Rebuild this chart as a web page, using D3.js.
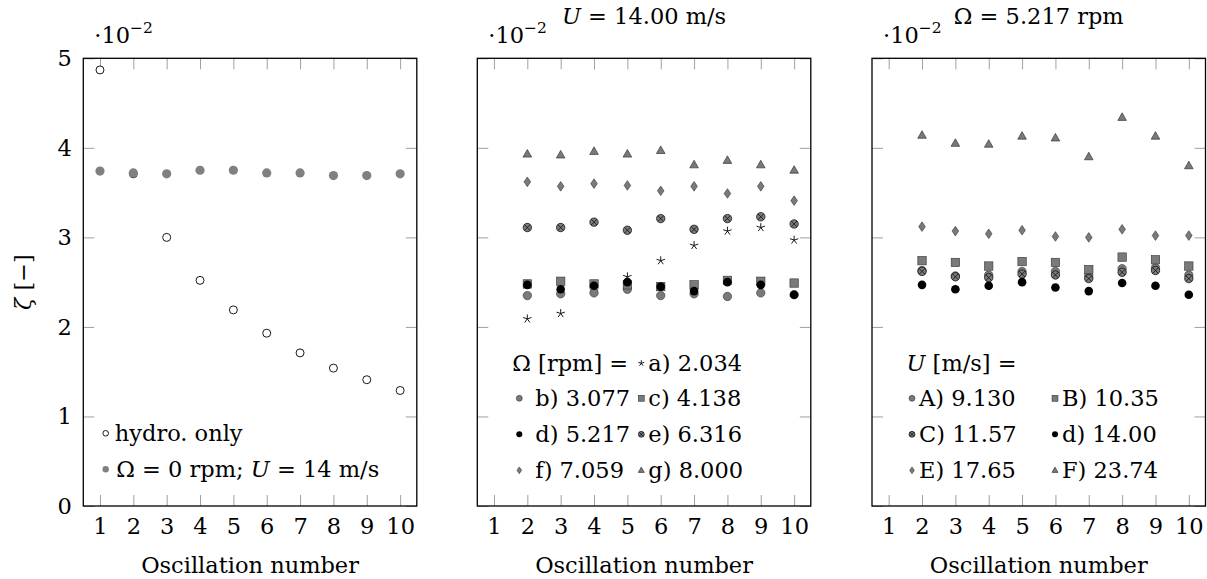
<!DOCTYPE html>
<html>
<head>
<meta charset="utf-8">
<script src="https://cdn.jsdelivr.net/npm/d3@7"></script>
<style>
  body { margin: 0; background: #fff; }
  svg { display: block; }
  text { font-family: "DejaVu Serif", serif; fill: #000; }
</style>
</head>
<body>
<svg id="chart" width="1207" height="579"></svg>
<script>
// oscillation numbers
const oscAll = [1, 2, 3, 4, 5, 6, 7, 8, 9, 10];
const oscFrom2 = [2, 3, 4, 5, 6, 7, 8, 9, 10];
const yTicks = [0, 1, 2, 3, 4, 5];

// left panel (zeta, x 1e-2)
const hydroOnly = [4.87, 3.71, 3.00, 2.52, 2.19, 1.93, 1.71, 1.54, 1.41, 1.29];
const zeroRpm   = [3.74, 3.72, 3.71, 3.75, 3.75, 3.72, 3.72, 3.69, 3.69, 3.71];

// middle panel, U = 14.00 m/s, various rotor speeds
const rpmA = [2.09, 2.15, 2.40, 2.56, 2.74, 2.91, 3.07, 3.11, 2.97];
const rpmB = [2.35, 2.37, 2.38, 2.42, 2.35, 2.37, 2.34, 2.38, 2.36];
const rpmC = [2.48, 2.51, 2.48, 2.47, 2.45, 2.47, 2.52, 2.51, 2.49];
const rpmD = [2.47, 2.42, 2.46, 2.50, 2.45, 2.40, 2.50, 2.47, 2.36];
const rpmE = [3.11, 3.11, 3.17, 3.08, 3.21, 3.09, 3.21, 3.23, 3.15];
const rpmF = [3.62, 3.57, 3.60, 3.58, 3.52, 3.57, 3.49, 3.57, 3.41];
const rpmG = [3.93, 3.92, 3.96, 3.93, 3.97, 3.81, 3.86, 3.81, 3.75];

// right panel, Omega = 5.217 rpm, various wind speeds
const windA = [2.63, 2.57, 2.58, 2.62, 2.62, 2.57, 2.65, 2.66, 2.58];
const windB = [2.74, 2.72, 2.68, 2.73, 2.72, 2.64, 2.78, 2.75, 2.68];
const windC = [2.62, 2.56, 2.55, 2.59, 2.58, 2.54, 2.61, 2.63, 2.54];
const windD = [2.47, 2.42, 2.46, 2.50, 2.44, 2.40, 2.49, 2.46, 2.36];
const windE = [3.12, 3.07, 3.04, 3.08, 3.01, 3.00, 3.09, 3.02, 3.02];
const windF = [4.14, 4.05, 4.04, 4.13, 4.11, 3.90, 4.34, 4.13, 3.80];

const svg = d3.select("#chart");
const fs = 22.5;
const plotTop = 58.3, plotH = 447.7, plotW = 333.5;
const panelLeft = [83.3, 477.3, 872];

const x = d3.scaleLinear().domain([0.5, 10.5]).range([0, plotW]);
const y = d3.scaleLinear().domain([0, 5]).range([plotH, 0]);

// draw one marker shape into a selection of <g>
function addMark(g, shape, s) {
  const gray = "#7a7a7a";
  if (shape === "open") {
    g.append("circle").attr("r", 4 * s).attr("fill", "#fff").attr("stroke", "#000").attr("stroke-width", 0.9);
  } else if (shape === "dot") {
    g.append("circle").attr("r", 4.6 * s).attr("fill", "#808080");
  } else if (shape === "circle") {
    g.append("circle").attr("r", 4.2 * s).attr("fill", gray).attr("stroke", "#333").attr("stroke-width", 0.6);
  } else if (shape === "black") {
    g.append("circle").attr("r", 4.3 * s).attr("fill", "#000");
  } else if (shape === "square") {
    g.append("rect").attr("x", -4.2 * s).attr("y", -4.2 * s).attr("width", 8.4 * s).attr("height", 8.4 * s)
      .attr("fill", gray).attr("stroke", "#333").attr("stroke-width", 0.6);
  } else if (shape === "otimes") {
    g.append("circle").attr("r", 4.2 * s).attr("fill", gray).attr("stroke", "#000").attr("stroke-width", 0.7);
    const k = 2.9 * s;
    g.append("path").attr("d", `M${-k},${-k}L${k},${k}M${-k},${k}L${k},${-k}`)
      .attr("stroke", "#000").attr("stroke-width", 0.7);
  } else if (shape === "diamond") {
    g.append("path").attr("d", `M0,${-4.8 * s}L${3.3 * s},0L0,${4.8 * s}L${-3.3 * s},0Z`)
      .attr("fill", gray).attr("stroke", "#333").attr("stroke-width", 0.6);
  } else if (shape === "triangle") {
    g.append("path").attr("d", `M0,${-4.6 * s}L${4.3 * s},${3 * s}L${-4.3 * s},${3 * s}Z`)
      .attr("fill", gray).attr("stroke", "#222").attr("stroke-width", 0.6);
  } else if (shape === "star") {
    const p = d3.path();
    for (let i = 0; i < 5; i++) {
      const a = -Math.PI / 2 + i * 2 * Math.PI / 5;
      p.moveTo(0, 0);
      p.lineTo(4.4 * s * Math.cos(a), 4.4 * s * Math.sin(a));
    }
    g.append("path").attr("d", p.toString()).attr("stroke", "#000").attr("stroke-width", 0.9).attr("fill", "none");
  }
}

function series(g, xs, vals, shape) {
  g.append("g").selectAll("g")
    .data(vals.map((v, i) => ({ n: xs[i], v: v })))
    .join("g")
    .attr("transform", d => `translate(${x(d.n)},${y(d.v)})`)
    .each(function () { addMark(d3.select(this), shape, 1); });
}

function panel(i, showY) {
  const g = svg.append("g").attr("transform", `translate(${panelLeft[i]},${plotTop})`);

  const tickCol = "#a0a0a0";
  g.append("g").attr("transform", `translate(0,${plotH})`)
    .call(d3.axisBottom(x).tickValues(oscAll).tickSizeInner(-11).tickSizeOuter(0).tickPadding(12));
  g.append("g").call(d3.axisTop(x).tickValues(oscAll).tickSizeInner(-11).tickSizeOuter(0).tickFormat(""));
  g.append("g")
    .call(d3.axisLeft(y).tickValues(yTicks).tickSizeInner(-11).tickSizeOuter(0).tickPadding(11.5)
      .tickFormat(showY ? d3.format("d") : ""));
  g.append("g").attr("transform", `translate(${plotW},0)`)
    .call(d3.axisRight(y).tickValues(yTicks).tickSizeInner(-11).tickSizeOuter(0).tickFormat(""));

  g.selectAll(".domain").remove();
  g.selectAll(".tick line").attr("stroke", tickCol).attr("stroke-width", 1);
  g.selectAll(".tick text").attr("font-family", "DejaVu Serif").attr("font-size", fs).attr("fill", "#000");

  g.append("rect").attr("width", plotW).attr("height", plotH)
    .attr("fill", "none").attr("stroke", "#000").attr("stroke-width", 1.3);

  g.append("text").attr("x", plotW / 2).attr("y", plotH + 67).attr("text-anchor", "middle")
    .attr("font-size", fs).text("Oscillation number");

  const sc = g.append("text").attr("x", 11).attr("y", -15).attr("font-size", fs);
  sc.append("tspan").text("·10");
  sc.append("tspan").attr("dy", -10).attr("font-size", 15.5).text("−2");
  return g;
}

// ---- left panel
const g1 = panel(0, true);
series(g1, oscAll, hydroOnly, "open");
series(g1, oscAll, zeroRpm, "dot");

svg.append("text").attr("transform", "translate(31,282) rotate(-90)").attr("text-anchor", "middle")
  .attr("font-size", fs)
  .call(t => {
    t.append("tspan").attr("font-style", "italic").text("ζ");
    t.append("tspan").text(" [−]");
  });

function legendMark(g, lx, ly, shape) {
  const m = g.append("g").attr("transform", `translate(${lx},${ly})`);
  addMark(m, shape, 0.7);
}
function legendText(g, lx, ly, parts) {
  const t = g.append("text").attr("x", lx).attr("y", ly + 8).attr("font-size", fs);
  parts.forEach(p => {
    const s = t.append("tspan").text(p[0]);
    if (p[1]) s.attr("font-style", "italic");
  });
}

legendMark(g1, 22.4, 375, "open");
legendText(g1, 31.5, 375, [["hydro. only"]]);
legendMark(g1, 22.4, 411, "dot");
legendText(g1, 33, 411, [["Ω = 0 rpm; "], ["U", true], [" = 14 m/s"]]);

// ---- middle panel
const g2 = panel(1, false);
series(g2, oscFrom2, rpmA, "star");
series(g2, oscFrom2, rpmB, "circle");
series(g2, oscFrom2, rpmC, "square");
series(g2, oscFrom2, rpmD, "black");
series(g2, oscFrom2, rpmE, "otimes");
series(g2, oscFrom2, rpmF, "diamond");
series(g2, oscFrom2, rpmG, "triangle");

svg.append("text").attr("x", panelLeft[1] + plotW / 2).attr("y", 24).attr("text-anchor", "middle")
  .attr("font-size", fs)
  .call(t => {
    t.append("tspan").attr("font-style", "italic").text("U");
    t.append("tspan").text(" = 14.00 m/s");
  });

const mRows = [305, 340, 376, 412];
const mc1 = 42, mc2 = 164;
legendText(g2, 35, mRows[0], [["Ω [rpm] ="]]);
legendMark(g2, mc2, mRows[0], "star");  legendText(g2, mc2 + 7, mRows[0], [["a) 2.034"]]);
legendMark(g2, mc1, mRows[1], "circle"); legendText(g2, mc1 + 16, mRows[1], [["b) 3.077"]]);
legendMark(g2, mc2, mRows[1], "square"); legendText(g2, mc2 + 7, mRows[1], [["c) 4.138"]]);
legendMark(g2, mc1, mRows[2], "black");  legendText(g2, mc1 + 16, mRows[2], [["d) 5.217"]]);
legendMark(g2, mc2, mRows[2], "otimes"); legendText(g2, mc2 + 7, mRows[2], [["e) 6.316"]]);
legendMark(g2, mc1, mRows[3], "diamond"); legendText(g2, mc1 + 16, mRows[3], [["f) 7.059"]]);
legendMark(g2, mc2, mRows[3], "triangle"); legendText(g2, mc2 + 7, mRows[3], [["g) 8.000"]]);

// ---- right panel
const g3 = panel(2, false);
series(g3, oscFrom2, windA, "circle");
series(g3, oscFrom2, windB, "square");
series(g3, oscFrom2, windC, "otimes");
series(g3, oscFrom2, windD, "black");
series(g3, oscFrom2, windE, "diamond");
series(g3, oscFrom2, windF, "triangle");

svg.append("text").attr("x", panelLeft[2] + plotW / 2).attr("y", 24).attr("text-anchor", "middle")
  .attr("font-size", fs).text("Ω = 5.217 rpm");

const rc1 = 40, rc2 = 183;
legendText(g3, 34.5, mRows[0], [["U", true], [" [m/s] ="]]);
legendMark(g3, rc1, mRows[1], "circle");   legendText(g3, rc1 + 7, mRows[1], [["A) 9.130"]]);
legendMark(g3, rc2, mRows[1], "square");   legendText(g3, rc2 + 7, mRows[1], [["B) 10.35"]]);
legendMark(g3, rc1, mRows[2], "otimes");   legendText(g3, rc1 + 7, mRows[2], [["C) 11.57"]]);
legendMark(g3, rc2, mRows[2], "black");    legendText(g3, rc2 + 7, mRows[2], [["d) 14.00"]]);
legendMark(g3, rc1, mRows[3], "diamond");  legendText(g3, rc1 + 7, mRows[3], [["E) 17.65"]]);
legendMark(g3, rc2, mRows[3], "triangle"); legendText(g3, rc2 + 7, mRows[3], [["F) 23.74"]]);
</script>
</body>
</html>
